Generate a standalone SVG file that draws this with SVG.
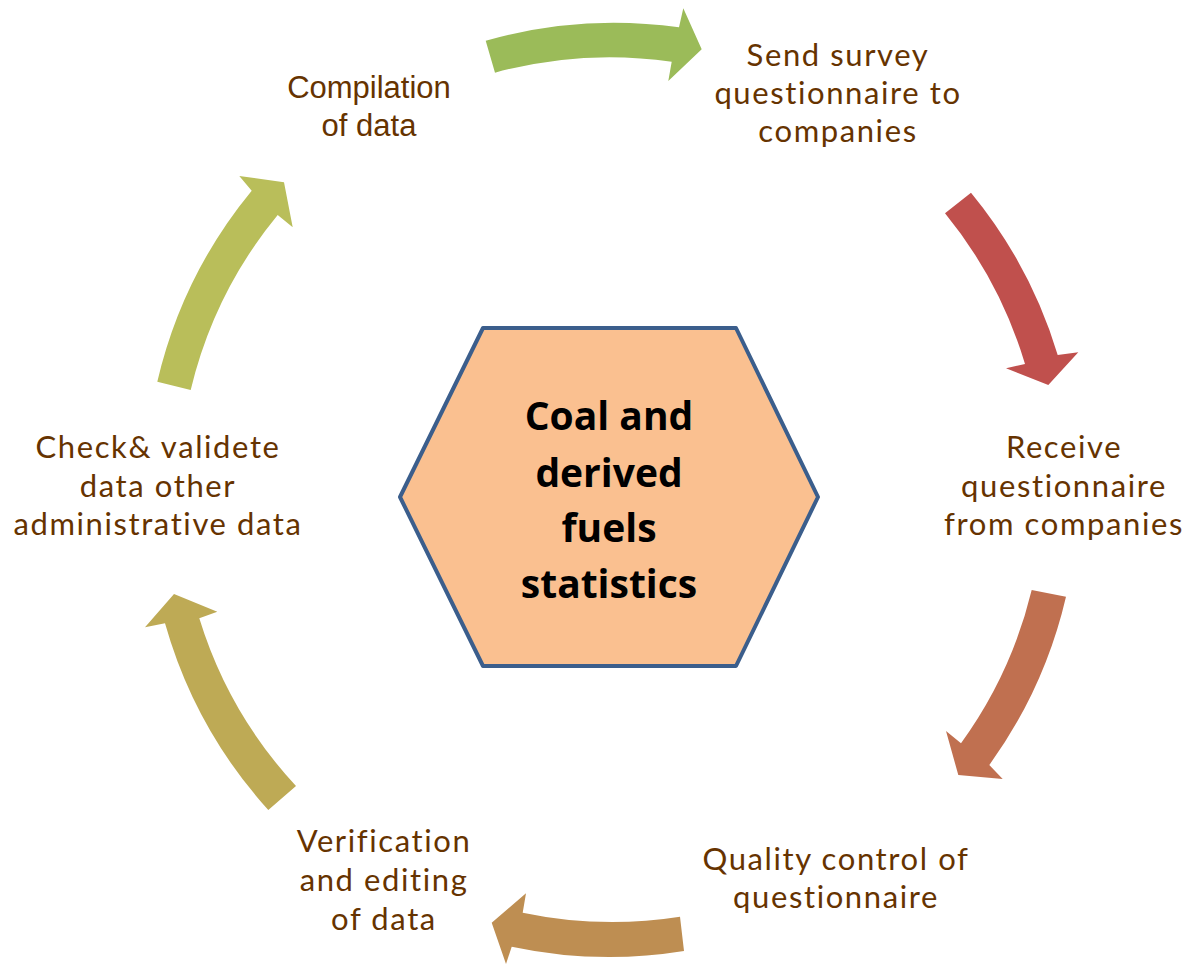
<svg xmlns="http://www.w3.org/2000/svg" width="1191" height="966" viewBox="0 0 1191 966">
<style>
.lbl{font-family:Lato,"Open Sans",sans-serif;font-size:31px;letter-spacing:1.6px;fill:#663300;text-anchor:middle}
.lbla{font-family:"Liberation Sans",Arial,sans-serif;font-size:31px;fill:#663300;text-anchor:middle}
.hub{font-family:"Open Sans","Noto Sans",sans-serif;font-size:39px;font-weight:bold;fill:#000;text-anchor:middle}
</style>
<rect width="1191" height="966" fill="#fff"/>
<g id="connectors">
<path fill="#9BBB59" d="M485.7,40.7 A468,468 0 0 1 679,27.3 L683.3,8.3 L701.7,49.3 L668.3,81 L671.7,61.7 A434,434 0 0 0 495,72.7 Z"/>
<path fill="#C0504D" d="M971,192.7 A468,468 0 0 1 1057.7,355 L1078.3,352.3 L1048.3,385 L1006,368.3 L1025,364 A434,434 0 0 0 945,213.3 Z"/>
<path fill="#C07050" d="M1066,596.7 A468,468 0 0 1 989.3,765 L1002.7,779 L958.3,775 L946,731 L961,743.3 A434,434 0 0 0 1031.7,590 Z"/>
<path fill="#BE8E52" d="M684,951 A468,468 0 0 1 511.7,946.7 L506,964 L491.7,922.7 L526,893.3 L522.7,912.7 A434,434 0 0 0 680,916.7 Z"/>
<path fill="#BEAA55" d="M268.3,810 A468,468 0 0 1 165,623.3 L145,627.3 L174,594 L217.3,611.7 L199.3,618.3 A434,434 0 0 0 296,786 Z"/>
<path fill="#B9BE5A" d="M157.3,381.7 A468,468 0 0 1 251.7,190.7 L239.3,176 L284,182.3 L292.7,227.3 L277.7,215 A434,434 0 0 0 190.7,390 Z"/>
</g>
<g id="hub">
<polygon points="400,497 483,328 736,328 818,497 736,666 483,666" fill="#FAC090" stroke="#3B5E8C" stroke-width="4" stroke-linejoin="round"/>
<text class="hub" x="609" y="430">Coal and</text>
<text class="hub" x="609" y="486.5">derived</text>
<text class="hub" x="609" y="542">fuels</text>
<text class="hub" x="609" y="598">statistics</text>
</g>
<g id="send">
<text class="lbl" x="838" y="66">Send survey</text>
<text class="lbl" x="838" y="104">questionnaire to</text>
<text class="lbl" x="838" y="142">companies</text>
</g>
<g id="receive">
<text class="lbl" x="1064" y="458">Receive</text>
<text class="lbl" x="1064" y="496.5">questionnaire</text>
<text class="lbl" x="1064" y="535">from companies</text>
</g>
<g id="quality">
<text class="lbl" x="836" y="870">Quality control of</text>
<text class="lbl" x="836" y="908">questionnaire</text>
</g>
<g id="verification">
<text class="lbl" x="384" y="852">Verification</text>
<text class="lbl" x="384" y="891">and editing</text>
<text class="lbl" x="384" y="930">of data</text>
</g>
<g id="check">
<text class="lbl" x="158" y="458">Check&amp; validete</text>
<text class="lbl" x="158" y="496.5">data other</text>
<text class="lbl" x="158" y="535">administrative data</text>
</g>
<g id="compilation">
<text class="lbla" x="369" y="98">Compilation</text>
<text class="lbla" x="369" y="136">of data</text>
</g>
</svg>
